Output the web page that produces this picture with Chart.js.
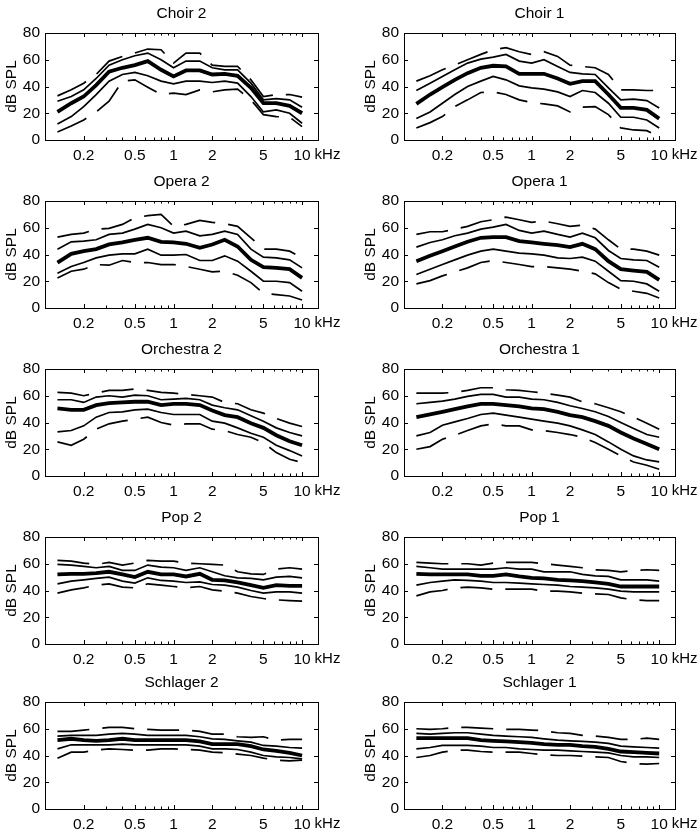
<!DOCTYPE html>
<html>
<head>
<meta charset="utf-8">
<script src="https://cdn.jsdelivr.net/npm/chart.js@4/dist/chart.umd.min.js"></script>
<style>
  body { margin: 0; background: #fff; }
  #wrap { position: relative; width: 700px; height: 837px; }
  #wrap canvas { position: absolute; }
</style>
</head>
<body>
<div id="wrap"></div>
<script>
// third-octave band centres (kHz)
const freqKHz = [0.125, 0.16, 0.2, 0.25, 0.315, 0.4, 0.5, 0.63, 0.8, 1, 1.25, 1.6, 2, 2.5, 3.15, 4, 5, 6.3, 8, 10];
const xTickValues = [0.2, 0.5, 1, 2, 5, 10];
const xTickLabels = ['0.2', '0.5', '1', '2', '5', '10'];
const yTickValues = [0, 20, 40, 60, 80];

// Choir 2
const choir2P95 = [33, 37.5, 42.5, 49, 59, 62.5, 65, 68, 67.5, 57.5, 65, 65, 56, 55, 55, 45, 32.5, 34, 34, 32];
const choir2P75 = [29, 32.5, 37.5, 46, 56, 60, 63, 65, 60, 54, 59, 59, 54, 52.5, 52.5, 42.5, 30, 31, 30, 24.5];
const choir2Med = [21, 27.5, 32.5, 41, 51, 54, 56, 59, 52.5, 47.5, 52, 52, 49, 49.5, 48, 39, 27.5, 27.5, 25.5, 20];
const choir2P25 = [12, 17.5, 25, 34, 44, 49, 50.5, 48, 44, 42, 44, 44, 43, 44, 42.5, 32.5, 21, 22.5, 20, 12.5];
const choir2P5  = [6, 10.5, 15, 21, 29, 44, 45, 39.5, 34, 35, 34, 37.5, 36, 37.5, 38, 30, 19, 17.5, 17, 10];

// Choir 1
const choir1P95 = [44, 48, 52.5, 56, 60, 64, 67.5, 69, 66, 64, 66, 62.5, 56, 55, 54, 49, 37.5, 37.5, 37, 37];
const choir1P75 = [37, 42.5, 47.5, 52.5, 57.5, 60.5, 62, 64, 59, 57.5, 60, 55, 50.5, 49.5, 49, 39, 30, 30.5, 29.5, 24];
const choir1Med = [27, 34, 39.5, 45, 50, 54, 55.5, 55, 49.5, 49.5, 49.5, 46, 42, 44, 44, 34, 24, 24, 22.5, 16];
const choir1P25 = [16, 21, 27.5, 34, 40, 44, 47.5, 45, 40.5, 39, 38, 36, 32.5, 37, 35.5, 27.5, 17, 17, 15, 9];
const choir1P5  = [9, 13, 17.5, 25, 30, 35.5, 36, 34, 30, 28, 27, 25.5, 21, 24.5, 25, 19, 9, 7.5, 7, 2.5];

// Opera 2
const opera2P95 = [53, 55, 56, 59, 59.5, 62.5, 67.5, 69, 70, 61, 62.5, 65.5, 64, 63, 61, 52.5, 44, 44, 42.5, 37.5];
const opera2P75 = [44, 49.5, 50, 51, 55, 56, 59, 62.5, 60, 56, 57.5, 54, 55, 57.5, 55, 44, 38, 37.5, 36, 30];
const opera2Med = [34, 40.5, 42.5, 44, 47.5, 49, 51, 52.5, 49.5, 49, 48, 45, 47.5, 51, 46, 36, 30.5, 30, 29, 22.5];
const opera2P25 = [26, 31, 34, 37.5, 39.5, 40.5, 40.5, 44, 39.5, 39.5, 40, 35.5, 35.5, 39, 35, 27.5, 20, 20, 19, 12.5];
const opera2P5  = [22.5, 27.5, 29, 32.5, 32, 35.5, 34, 34, 32.5, 32.5, 31, 29, 27, 27.5, 24.5, 19, 11, 10, 9, 6];

// Opera 1
const opera1P95 = [55, 57, 57, 59, 61, 64.5, 66, 68, 66, 64, 65, 63, 61, 62, 59, 51, 44, 44, 42.5, 39.5];
const opera1P75 = [45.5, 49, 51, 54, 56, 59, 60.5, 62.5, 58, 56, 57.5, 55, 53, 56, 52.5, 43, 37, 36, 35.5, 30.5];
const opera1Med = [35, 39, 42.5, 46, 49.5, 52.5, 53, 53, 50, 49, 48, 47, 45.5, 48, 44, 35, 29, 28, 27, 21];
const opera1P25 = [25, 29, 32.5, 36, 39.5, 42.5, 44, 42.5, 41, 40.5, 39.5, 37.5, 37, 38, 35, 27.5, 20.5, 20, 18, 12.5];
const opera1P5  = [18, 20.5, 24, 27, 30, 34, 35.5, 34, 32.5, 31, 31, 30, 29, 27.5, 25.5, 19, 14, 12.5, 11, 7.5];

// Orchestra 2
const orch2P95 = [62.5, 62, 60, 62, 64, 64, 65, 64, 62.5, 62, 61, 60, 59, 55, 54, 49.5, 47, 43, 39.5, 37];
const orch2P75 = [57, 57, 55, 59, 60, 59, 60.5, 60, 57, 57.5, 58, 57, 53, 51, 49.5, 45, 41, 36, 32.5, 30];
const orch2Med = [50.5, 49.5, 49.5, 53, 54.5, 55, 55.5, 55.5, 53, 54, 54, 53, 49, 45.5, 44, 39.5, 36, 30.5, 26, 23];
const orch2P25 = [33, 34, 37.5, 44, 47.5, 48, 49.5, 50, 47.5, 46, 46, 46, 41, 39.5, 36, 32, 29, 23, 19, 15];
const orch2P5  = [25.5, 23, 27.5, 35, 39, 41, 42.5, 44, 40, 38, 39, 39, 35, 34, 31, 29, 25, 17.5, 12.5, 10];

// Orchestra 1
const orch1P95 = [62, 62, 62, 62.5, 64, 66, 66, 64.5, 64, 63, 62, 60.5, 59, 55.5, 54, 51, 48, 44, 39.5, 35];
const orch1P75 = [54, 55, 56, 57.5, 59.5, 61, 61, 59, 59, 57.5, 57, 55, 52.5, 50.5, 48, 44.5, 40, 35.5, 31, 29];
const orch1Med = [44, 46, 48, 50, 52, 54, 54, 53, 52, 50.5, 50, 48, 45.5, 44, 41, 37.5, 32.5, 28, 24, 20];
const orch1P25 = [30, 32.5, 38, 40.5, 43, 46, 47, 45.5, 44, 42.5, 41, 39.5, 37.5, 34.5, 31, 25.5, 20, 15, 12, 10.5];
const orch1P5  = [20, 22, 27.5, 30.5, 34, 37.5, 39, 37.5, 37.5, 34.5, 34, 32.5, 31, 29, 25, 20, 15, 10.5, 8, 5];

// Pop 2
const pop2P95 = [62.5, 62, 60.5, 59.5, 61, 59, 60.5, 62.5, 62, 62, 60.5, 60, 59.5, 59, 54, 52.5, 52, 56, 57, 56];
const pop2P75 = [59.5, 59, 58, 57, 58, 55, 55, 59, 57.5, 57, 55, 57, 54, 51, 49.5, 49, 48, 50, 50.5, 49.5];
const pop2Med = [52, 52.5, 52.5, 53, 54, 52, 50, 54, 52, 52, 50.5, 52.5, 48, 47.5, 46, 44, 42, 44, 43.5, 43.5];
const pop2P25 = [45, 47, 48, 49, 50, 47, 45.5, 49.5, 47.5, 47, 46, 46.5, 44.5, 44, 42.5, 40, 38, 39, 39, 38];
const pop2P5  = [38, 40.5, 42, 44, 45, 42.5, 42, 45, 44, 43, 42, 43, 40.5, 39.5, 38, 35.5, 34, 33, 32.5, 32];

// Pop 1
const pop1P95 = [61, 60.5, 60, 60, 60, 59, 60.5, 61, 61, 61, 60, 59, 58, 57, 55.5, 55, 54, 55, 55.5, 55];
const pop1P75 = [58, 57, 56, 56, 56, 56, 56, 57, 56, 56, 54, 54, 54, 52, 51, 50.5, 48, 48, 48, 47];
const pop1Med = [52.5, 52, 52, 52, 52, 51, 51, 52, 50.5, 49.5, 49, 48, 47.5, 47, 46, 45, 43, 43, 43, 43];
const pop1P25 = [44, 46, 47, 48, 47.5, 47, 46, 46, 45.5, 45, 44.5, 44, 43, 42.5, 42, 41, 39.5, 39, 39, 39];
const pop1P5  = [36, 39, 40, 42, 42.5, 42, 41, 41, 41, 41, 39.5, 39.5, 39, 38, 37.5, 37, 34.5, 33, 32.5, 32.5];

// Schlager 2
const schl2P95 = [58, 58, 59, 60, 61, 61, 60, 59.5, 59, 59, 59, 58, 56, 56, 54, 53.5, 54, 51.5, 52, 52];
const schl2P75 = [54.5, 55, 55, 55, 56, 56.5, 56, 55, 55, 55, 55, 54, 52.5, 52, 51, 50, 47.5, 47, 46, 45.5];
const schl2Med = [51.5, 52.5, 51.5, 51, 51.5, 52.5, 51.5, 51.5, 51.5, 51.5, 51.5, 50.5, 48.5, 48.5, 48.5, 47, 44.5, 43.5, 42, 40];
const schl2P25 = [45, 48, 48, 48, 48, 48.5, 48, 48, 48, 48, 48, 47, 45, 45, 44.5, 42.5, 40, 39, 38.5, 37.5];
const schl2P5  = [38, 42.5, 42.5, 44, 45, 44.5, 44, 44, 45, 45, 44.5, 44, 42.5, 42, 41, 40, 38, 36.5, 36, 36.5];

// Schlager 1
const schl1P95 = [60, 59.5, 60, 61, 61, 60.5, 60, 59.5, 59.5, 59, 58.5, 57, 56.5, 55, 54.5, 53.5, 52, 52, 53, 52];
const schl1P75 = [56.5, 56, 56.5, 57, 57, 56, 55, 54.5, 54, 53.5, 52.5, 51.5, 51, 50.5, 50, 49, 47, 46.5, 46, 45.5];
const schl1Med = [53, 53, 53, 53, 53, 51.5, 51, 50.5, 50, 49.5, 48.5, 48, 48, 47, 46.5, 45, 43, 42.5, 42, 41.5];
const schl1P25 = [45, 46, 47.5, 47.5, 47.5, 47, 46, 46, 45, 44.5, 44, 44, 43.5, 43, 42.5, 42, 40, 39, 39, 38.5];
const schl1P5  = [38.5, 40, 42.5, 44, 44, 43, 42.5, 42.5, 42.5, 41.5, 40.5, 40, 40, 39.5, 39, 38.5, 35.5, 34, 33.5, 34];

const panels = [
  { title: 'Choir 2', series: [choir2P95, choir2P75, choir2Med, choir2P25, choir2P5] },
  { title: 'Choir 1', series: [choir1P95, choir1P75, choir1Med, choir1P25, choir1P5] },
  { title: 'Opera 2', series: [opera2P95, opera2P75, opera2Med, opera2P25, opera2P5] },
  { title: 'Opera 1', series: [opera1P95, opera1P75, opera1Med, opera1P25, opera1P5] },
  { title: 'Orchestra 2', series: [orch2P95, orch2P75, orch2Med, orch2P25, orch2P5] },
  { title: 'Orchestra 1', series: [orch1P95, orch1P75, orch1Med, orch1P25, orch1P5] },
  { title: 'Pop 2', series: [pop2P95, pop2P75, pop2Med, pop2P25, pop2P5] },
  { title: 'Pop 1', series: [pop1P95, pop1P75, pop1Med, pop1P25, pop1P5] },
  { title: 'Schlager 2', series: [schl2P95, schl2P75, schl2Med, schl2P25, schl2P5] },
  { title: 'Schlager 1', series: [schl1P95, schl1P75, schl1Med, schl1P25, schl1P5] }
];

const rowTops = [0, 168, 336, 504, 669];
const FONT = '"Liberation Sans", Arial, Helvetica, sans-serif';
const FSIZE = 15.5;

// line looks: 95th dashed, quartiles thin, median thick, 5th dashed
const lineStyles = [
  { width: 1.7, dash: [32, 13] },
  { width: 1.7, dash: [] },
  { width: 3.8, dash: [] },
  { width: 1.7, dash: [] },
  { width: 1.7, dash: [32, 13] }
];

// minor ticks for the log axis
const minorX = [];
[0.1, 1, 10].forEach(d => { for (let k = 2; k <= 9; k++) if (k * d <= 13) minorX.push(k * d); });
minorX.push(1, 10);

// box, inward ticks, title, axis words
const framePlugin = {
  id: 'frame',
  afterDraw(chart, args, opts) {
    const ctx = chart.ctx;
    const a = chart.chartArea;
    const xs = chart.scales.x, ys = chart.scales.y;
    ctx.save();
    ctx.strokeStyle = '#000';
    ctx.lineWidth = 1;
    ctx.strokeRect(Math.round(a.left) + 0.5, Math.round(a.top) + 0.5, Math.round(a.right - a.left), Math.round(a.bottom - a.top));
    ctx.beginPath();
    yTickValues.forEach(v => {
      const y = Math.round(ys.getPixelForValue(v)) + 0.5;
      ctx.moveTo(a.left, y); ctx.lineTo(a.left + 4, y);
      ctx.moveTo(a.right, y); ctx.lineTo(a.right - 4, y);
    });
    minorX.forEach(v => {
      const x = Math.round(xs.getPixelForValue(v)) + 0.5;
      const len = xTickValues.includes(v) ? 4 : 2.5;
      ctx.moveTo(x, a.bottom); ctx.lineTo(x, a.bottom - len);
      ctx.moveTo(x, a.top); ctx.lineTo(x, a.top + len);
    });
    ctx.stroke();

    ctx.fillStyle = '#000';
    ctx.font = FSIZE + 'px ' + FONT;
    ctx.textBaseline = 'middle';
    ctx.textAlign = 'center';
    ctx.fillText(opts.title, (a.left + a.right) / 2, 14);
    ctx.textAlign = 'left';
    ctx.font = '15px ' + FONT;
    ctx.fillText('kHz', xs.getPixelForValue(10) + 12.5, 155);
    ctx.font = FSIZE + 'px ' + FONT;
    ctx.translate(a.left - 33, (a.top + a.bottom) / 2);
    ctx.rotate(-Math.PI / 2);
    ctx.textAlign = 'center';
    ctx.fillText('dB SPL', 0, 0);
    ctx.restore();
  }
};

const wrap = document.getElementById('wrap');

panels.forEach((p, i) => {
  const col = i % 2;
  const row = Math.floor(i / 2);
  const canvas = document.createElement('canvas');
  canvas.width = 350;
  canvas.height = 168;
  canvas.style.left = (col * 350) + 'px';
  canvas.style.top = rowTops[row] + 'px';
  wrap.appendChild(canvas);

  const datasets = p.series.map((vals, k) => ({
    data: freqKHz.map((f, j) => ({ x: f, y: vals[j] })),
    borderColor: '#000',
    borderWidth: lineStyles[k].width,
    borderDash: lineStyles[k].dash,
    pointRadius: 0,
    fill: false,
    tension: 0
  }));

  new Chart(canvas, {
    type: 'line',
    data: { datasets: datasets },
    options: {
      responsive: false,
      animation: false,
      devicePixelRatio: 1,
      layout: { padding: { top: 33, bottom: 0, left: col ? 9 : 0, right: col ? 25 : 32 } },
      plugins: {
        legend: { display: false },
        tooltip: { enabled: false },
        frame: { title: p.title }
      },
      scales: {
        x: {
          type: 'logarithmic',
          min: 0.1,
          max: 13.3,
          grid: { display: false, drawTicks: false },
          border: { display: false },
          afterBuildTicks: s => { s.ticks = xTickValues.map(v => ({ value: v })); },
          afterFit: s => { s.height = 28; },
          ticks: {
            autoSkip: false,
            maxRotation: 0,
            padding: 6,
            color: '#000',
            font: { family: FONT, size: FSIZE },
            callback: v => xTickLabels[xTickValues.indexOf(v)]
          }
        },
        y: {
          min: 0,
          max: 80,
          grid: { display: false, drawTicks: false },
          border: { display: false },
          afterFit: s => { s.width = 45; },
          ticks: {
            stepSize: 20,
            padding: 5,
            color: '#000',
            font: { family: FONT, size: FSIZE }
          }
        }
      }
    },
    plugins: [framePlugin]
  });
});
</script>
</body>
</html>
